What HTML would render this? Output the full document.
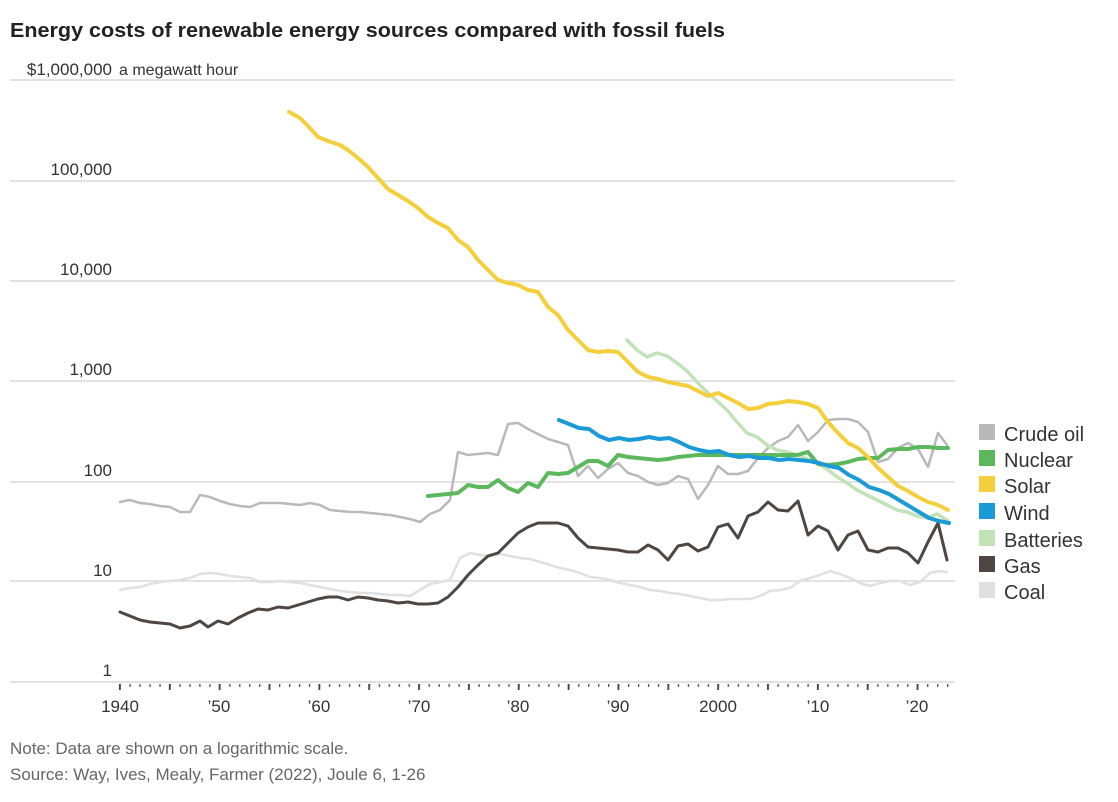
<!DOCTYPE html>
<html><head><meta charset="utf-8"><style>
body{margin:0;background:#fff;width:1118px;height:797px;overflow:hidden;font-family:"Liberation Sans",sans-serif}
</style></head><body>
<svg width="1118" height="797" xmlns="http://www.w3.org/2000/svg" font-family="Liberation Sans, sans-serif">
<defs>
<pattern id="minor" x="119.5" y="684" width="9.97" height="4" patternUnits="userSpaceOnUse"><rect x="0" y="0" width="1.3" height="3" fill="#555"/></pattern>
<pattern id="major" x="119" y="684" width="49.85" height="7" patternUnits="userSpaceOnUse"><rect x="0" y="0" width="1.8" height="6" fill="#444"/></pattern>
</defs>
<text x="10" y="37" font-size="20" font-weight="bold" fill="#222" textLength="715" lengthAdjust="spacingAndGlyphs">Energy costs of renewable energy sources compared with fossil fuels</text>
<g stroke="#d9d9d9" stroke-width="1.5">
<line x1="10" x2="955" y1="80" y2="80"/><line x1="10" x2="955" y1="181" y2="181"/><line x1="10" x2="955" y1="281" y2="281"/><line x1="10" x2="955" y1="381" y2="381"/><line x1="10" x2="955" y1="482" y2="482"/><line x1="10" x2="955" y1="581" y2="581"/><line x1="10" x2="955" y1="682" y2="682"/>
</g>
<rect x="119" y="684" width="831" height="4" fill="url(#minor)"/>
<rect x="118.5" y="684" width="830" height="7" fill="url(#major)"/>
<g font-size="17" fill="#333" text-anchor="end">
<text x="112" y="75">$1,000,000</text>
<text x="112" y="175">100,000</text>
<text x="112" y="275">10,000</text>
<text x="112" y="375">1,000</text>
<text x="112" y="476">100</text>
<text x="112" y="576">10</text>
<text x="112" y="676">1</text>
</g>
<text x="119" y="75" font-size="16" fill="#333">a megawatt hour</text>
<g font-size="17" fill="#333" text-anchor="middle">
<text x="120" y="712">1940</text><text x="219" y="712">’50</text><text x="319" y="712">’60</text><text x="419" y="712">’70</text><text x="518" y="712">’80</text><text x="618" y="712">’90</text><text x="718" y="712">2000</text><text x="818" y="712">’10</text><text x="917" y="712">’20</text>
</g>
<text x="10" y="754" font-size="17" fill="#666">Note: Data are shown on a logarithmic scale.</text>
<text x="10" y="780" font-size="17" fill="#666">Source: Way, Ives, Mealy, Farmer (2022), Joule 6, 1-26</text>
<g fill="none" stroke-linejoin="round" stroke-linecap="round">
<polyline stroke="#e0e0e0" stroke-width="2.5" points="120,590 130,588 140,587 150,584 160,582 170,581 180,580 190,578 200,574 210,573 220,574 230,576 240,577 250,578 260,582 270,582 280,581 290,582 300,583 310,585 320,587 330,589 340,591 350,592 360,593 370,593 380,594 390,595 400,595 410,596 420,590 430,584 440,582 450,580 460,558 470,553 480,555 490,556 500,554 510,556 520,558 530,559 540,562 550,565 560,568 570,570 580,573 590,577 600,578 610,580 620,583 630,585 640,587 650,590 660,591 670,593 680,594 690,596 700,598 710,600 720,600 730,599 740,599 750,599 760,596 770,591 780,590 790,588 800,581 810,578 820,575 830,571 840,574 850,578 860,583 870,586 880,583 890,581 900,581 910,585 920,582 930,573 940,571 947,572"/>
<polyline stroke="#b9b9b9" stroke-width="2.5" points="120,502 130,500 140,503 150,504 160,506 170,507 180,512 190,512 200,495 210,497 220,501 230,504 240,506 250,507 260,503 270,503 280,503 290,504 300,505 310,503 320,505 330,510 340,511 350,512 360,512 370,513 380,514 390,515 400,517 410,519 420,522 430,514 440,510 450,500 458,452 468,455 478,454 488,453 498,455 508,424 518,423 528,429 538,434 548,439 558,442 568,445 578,476 588,466 598,478 608,469 618,463 628,473 638,476 648,482 658,485 668,483 678,476 688,479 698,499 708,485 718,466 728,474 738,474 748,471 758,458 768,448 778,441 788,437 798,425 808,441 818,432 828,420 838,419 848,419 858,422 868,432 878,462 888,459 898,448 908,443 918,449 928,467 938,433 947,445"/>
<polyline stroke="#c2e2b8" stroke-width="3.5" points="627,340 637,350 647,357 657,353 667,356 677,363 687,371 697,382 707,392 717,401 727,410 737,422 747,433 757,437 767,445 777,450 787,452 797,455 807,459 817,463 827,469 837,477 847,483 857,490 867,495 877,500 887,505 897,510 907,512 917,516 927,518 937,514 947,520"/>
<polyline stroke="#4d4641" stroke-width="3" points="120,612 130,616 140,620 150,622 160,623 170,624 180,628 190,626 200,621 208,627 218,621 228,624 238,618 248,613 258,609 268,610 278,607 288,608 298,605 308,602 318,599 328,597 338,597 348,600 358,597 368,598 378,600 388,601 398,603 408,602 418,604 428,604 438,603 448,597 458,587 468,575 478,565 488,556 498,553 508,543 518,533 528,527 538,523 548,523 558,523 568,526 578,538 588,547 598,548 608,549 618,550 628,552 638,552 648,545 658,550 668,560 678,546 688,544 698,551 708,547 718,527 728,524 738,538 748,516 758,512 768,502 778,510 788,511 798,501 808,535 818,526 828,531 838,550 848,535 858,531 868,550 878,552 888,548 898,548 908,553 918,563 928,542 938,523 947,560"/>
<polyline stroke="#5cb85c" stroke-width="4" points="428,496 438,495 448,494 458,493 468,485 478,487 488,487 498,480 508,488 518,492 528,483 538,487 548,473 558,474 568,473 578,467 588,461 598,461 608,466 618,455 628,457 638,458 648,459 658,460 668,459 678,457 688,456 698,455 708,455 718,455 797,455 808,452 818,464 828,465 838,464 848,462 858,459 868,458 878,458 888,450 898,449 908,449 918,447 928,447 938,448 948,448"/>
<polyline stroke="#1a9ad6" stroke-width="4" points="559,420 569,424 579,428 589,429 599,436 609,440 619,438 629,440 639,439 649,437 659,439 669,438 679,442 689,447 699,450 709,452 719,451 729,455 739,457 749,456 759,458 769,458 779,460 789,459 799,460 809,461 819,463 829,466 839,468 849,475 859,480 869,487 879,490 889,494 899,500 909,506 919,512 929,518 939,521 949,523"/>
<polyline stroke="#f5cf3b" stroke-width="4" points="289,112 300,118 308,126 318,137 328,141 340,145 348,150 358,158 368,167 378,178 388,189 398,195 408,201 418,208 428,217 438,223 448,228 458,240 468,247 478,260 488,270 498,280 508,283 518,285 528,290 538,292 548,307 558,315 568,330 578,340 588,350 598,352 608,351 618,352 628,362 638,372 648,377 658,379 668,382 678,384 688,386 698,391 708,396 718,393 728,398 738,403 748,409 758,408 768,404 778,403 788,401 798,402 808,404 818,408 828,422 838,433 848,443 858,448 868,457 878,468 888,477 898,486 908,491 918,497 928,502 938,505 948,510"/>
</g>
<g font-size="20" fill="#333">
<rect x="979" y="424" width="16" height="16" fill="#b9b9b9"/><text x="1004" y="441">Crude oil</text>
<rect x="979" y="450" width="16" height="16" fill="#5cb85c"/><text x="1004" y="467">Nuclear</text>
<rect x="979" y="476" width="16" height="16" fill="#f5cf3b"/><text x="1004" y="493">Solar</text>
<rect x="979" y="503" width="16" height="16" fill="#1a9ad6"/><text x="1004" y="520">Wind</text>
<rect x="979" y="530" width="16" height="16" fill="#c2e2b8"/><text x="1004" y="547">Batteries</text>
<rect x="979" y="556" width="16" height="16" fill="#4d4641"/><text x="1004" y="573">Gas</text>
<rect x="979" y="582" width="16" height="16" fill="#e0e0e0"/><text x="1004" y="599">Coal</text>
</g>
</svg>
</body></html>
